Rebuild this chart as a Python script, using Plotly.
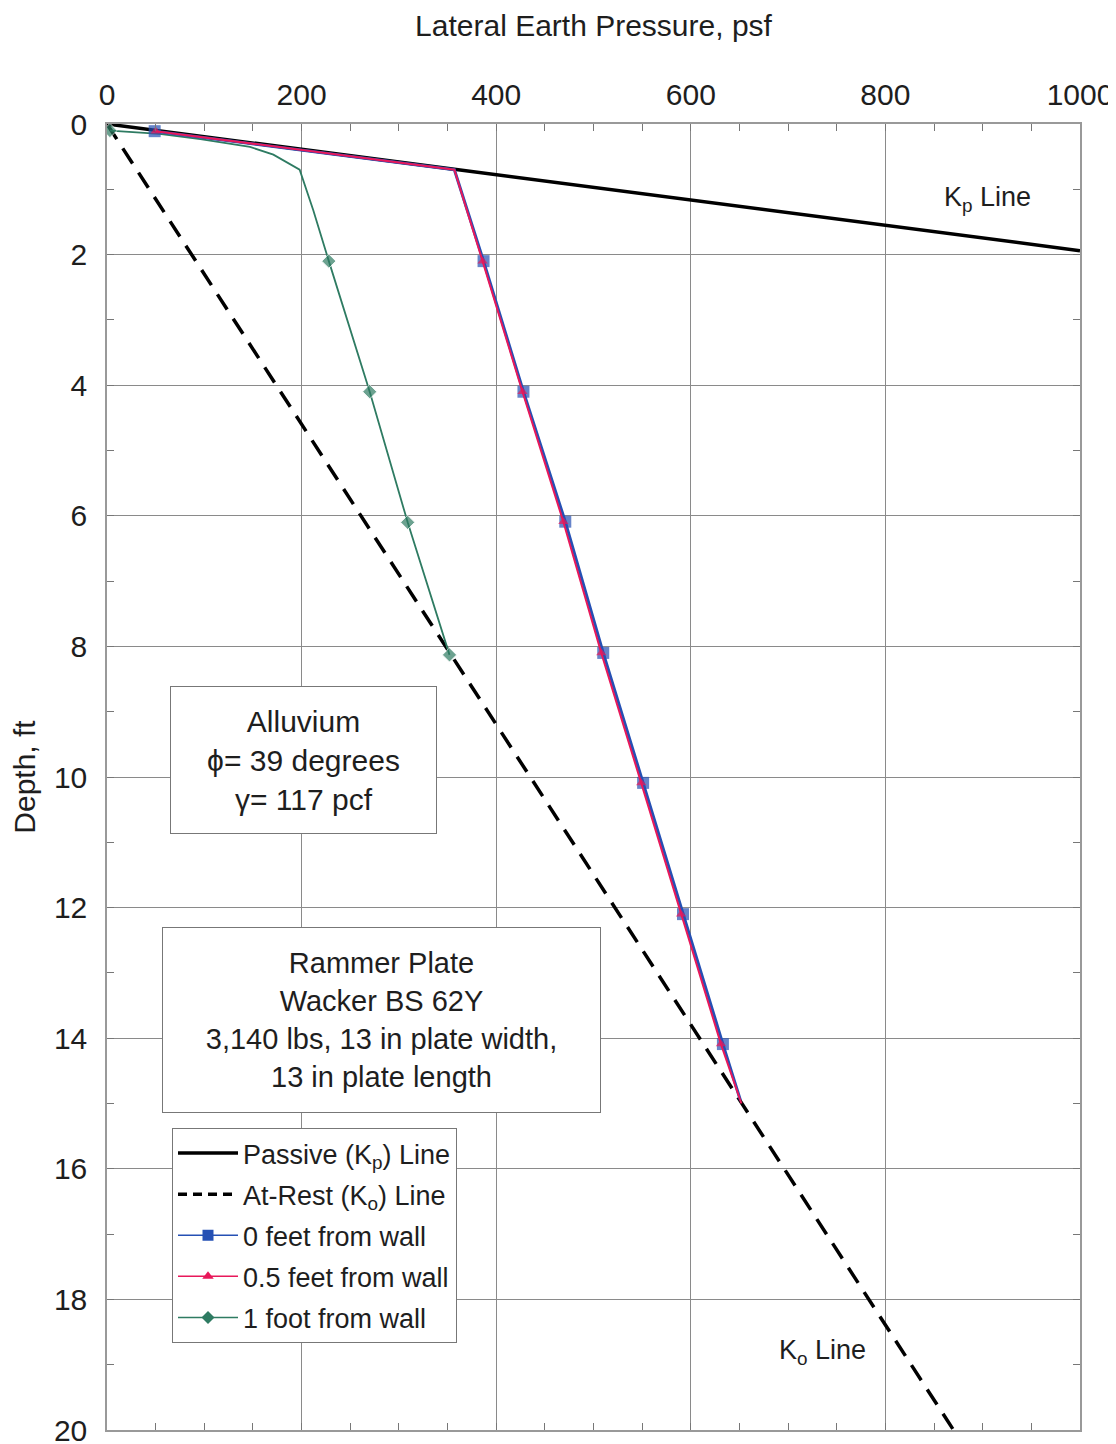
import plotly.graph_objects as go

# ---- data ----
kp_press = [0, 1000]
kp_depth = [0, 1.94]

ko_press = [0, 870]
ko_depth = [0, 20]

ft0_press = [49, 357, 387, 428, 471, 510, 551, 592, 633, 651]
ft0_depth = [0.11, 0.70, 2.10, 4.10, 6.09, 8.10, 10.09, 12.10, 14.09, 14.95]
ft0_mark = [1, 0, 1, 1, 1, 1, 1, 1, 1, 0]

ft05_press = [50, 357, 386, 427, 469, 508, 549, 590, 631, 652]
ft05_depth = [0.11, 0.70, 2.10, 4.10, 6.09, 8.10, 10.09, 12.10, 14.09, 15.0]
ft05_mark = [1, 0, 1, 1, 1, 1, 1, 1, 1, 0]

ft1_press = [3, 54, 96, 147, 171, 198, 212, 219, 228, 270, 309, 352]
ft1_depth = [0.10, 0.15, 0.23, 0.35, 0.47, 0.70, 1.32, 1.67, 2.10, 4.10, 6.10, 8.13]
ft1_mark = [1, 0, 0, 0, 0, 0, 0, 0, 1, 1, 1, 1]

x_ticks = [0, 200, 400, 600, 800, 1000]
y_ticks = [0, 2, 4, 6, 8, 10, 12, 14, 16, 18, 20]

FONT = "Liberation Sans, Arial, Helvetica, sans-serif"
BLUE = "#2550b4"
RED = "#e8185a"
GREEN = "#2e7b62"
TXT = "#1e1e1e"

fig = go.Figure()

# series (legend handled by proxy entries so legend symbols have uniform marker size)
fig.add_trace(go.Scatter(x=ko_press, y=ko_depth, mode="lines", showlegend=False,
                         line=dict(color="black", width=3.5, dash="18px,11px")))
fig.add_trace(go.Scatter(x=kp_press, y=kp_depth, mode="lines", showlegend=False,
                         line=dict(color="black", width=3.5)))
fig.add_trace(go.Scatter(x=ft1_press, y=ft1_depth, mode="lines+markers", showlegend=False,
                         line=dict(color=GREEN, width=1.8),
                         marker=dict(symbol="diamond", size=[11 if m else 0 for m in ft1_mark], color=GREEN)))
fig.add_trace(go.Scatter(x=ft0_press, y=ft0_depth, mode="lines+markers", showlegend=False,
                         line=dict(color=BLUE, width=3),
                         marker=dict(symbol="square", size=[12 if m else 0 for m in ft0_mark], color=BLUE,
                                     line=dict(width=0))))
fig.add_trace(go.Scatter(x=ft05_press, y=ft05_depth, mode="lines+markers", showlegend=False,
                         line=dict(color=RED, width=2),
                         marker=dict(symbol="triangle-up", size=[9 if m else 0 for m in ft05_mark], color=RED,
                                     line=dict(width=0))))

# legend entries
legend_items = [
    ("Passive (K<sub>p</sub>) Line", dict(color="black", width=3.5), None, "lines"),
    ("At-Rest (K<sub>o</sub>) Line", dict(color="black", width=3.5, dash="9px,6px"), None, "lines"),
    ("0 feet from wall", dict(color=BLUE, width=1.5), dict(symbol="square", size=11, color=BLUE), "lines+markers"),
    ("0.5 feet from wall", dict(color=RED, width=1.5), dict(symbol="triangle-up", size=10, color=RED), "lines+markers"),
    ("1 foot from wall", dict(color=GREEN, width=1.5), dict(symbol="diamond", size=10, color=GREEN), "lines+markers"),
]
for i, (nm, ln, mk, mode) in enumerate(legend_items):
    kw = dict(x=[None], y=[None], mode=mode, name=nm, line=ln, legendgroup=f"g{i}", legendrank=i + 1)
    if mk:
        kw["marker"] = mk
    fig.add_trace(go.Scatter(**kw))

# page offset: html body adds an 8px margin
OFF = 8
W, H = 1116 - OFF, 1444 - OFF
ML, MR, MT, MB = 107 - OFF, 36, 124 - OFF, 14
pw, ph = W - ML - MR, H - MT - MB

def px(xp):  # page pixel -> paper
    return (xp - 107) / pw

def py(yp):
    return (1430 - yp) / ph

annos = [
    dict(text="Alluvium<br>ϕ= 39 degrees<br>γ= 117 pcf", x=px(303.5), y=py(760), xref="paper", yref="paper",
         showarrow=False, font=dict(size=30, family=FONT, color=TXT), bordercolor="#777", borderwidth=1,
         borderpad=0, bgcolor="white", width=265, height=146, xanchor="center", yanchor="middle"),
    dict(text="Rammer Plate<br>Wacker BS 62Y<br>3,140 lbs, 13 in plate width,<br>13 in plate length",
         x=px(381.5), y=py(1020), xref="paper", yref="paper",
         showarrow=False, font=dict(size=29, family=FONT, color=TXT), bordercolor="#777", borderwidth=1,
         borderpad=0, bgcolor="white", width=437, height=184, xanchor="center", yanchor="middle"),
    dict(text="K<sub>p</sub> Line", x=905, y=1.15, xref="x", yref="y", showarrow=False,
         font=dict(size=27, family=FONT, color=TXT)),
    dict(text="K<sub>o</sub> Line", x=735, y=18.8, xref="x", yref="y", showarrow=False,
         font=dict(size=27, family=FONT, color=TXT)),
]

fig.update_layout(
    width=W, height=H,
    margin=dict(l=ML, r=MR, t=MT, b=MB),
    paper_bgcolor="white", plot_bgcolor="white",
    font=dict(family=FONT, color=TXT, size=28),
    annotations=annos,
    showlegend=True,
    legend=dict(x=px(172), y=py(1128), xanchor="left", yanchor="top",
                bordercolor="#777", borderwidth=1, bgcolor="white",
                font=dict(size=27, family=FONT, color=TXT),
                traceorder="grouped", tracegroupgap=3, itemwidth=60),
)

fig.update_xaxes(
    side="top", range=[0, 1000], tickvals=x_ticks, ticktext=[str(v) for v in x_ticks],
    showgrid=True, gridcolor="#8a8a8a", gridwidth=1,
    showline=True, linecolor="#999", linewidth=1.5, mirror="ticks",
    ticks="inside", ticklen=7, tickcolor="#777",
    minor=dict(dtick=50, ticks="inside", ticklen=7, tickcolor="#777", showgrid=False),
    tickfont=dict(size=30), zeroline=False, automargin=False, ticklabelstandoff=5,
    ticklabeloverflow="allow",
    title=dict(text="Lateral Earth Pressure, psf", font=dict(size=30), standoff=33),
)
fig.update_yaxes(
    range=[20, 0], tickvals=y_ticks, ticktext=[str(v) for v in y_ticks],
    showgrid=True, gridcolor="#8a8a8a", gridwidth=1,
    showline=True, linecolor="#999", linewidth=1.5, mirror="ticks",
    ticks="inside", ticklen=7, tickcolor="#777",
    minor=dict(dtick=1, ticks="inside", ticklen=7, tickcolor="#777", showgrid=False),
    tickfont=dict(size=30), zeroline=False, automargin=False, ticklabelstandoff=12,
    ticklabeloverflow="allow",
    title=dict(text="Depth, ft", font=dict(size=30), standoff=10),
)

fig.write_html("out.html")
